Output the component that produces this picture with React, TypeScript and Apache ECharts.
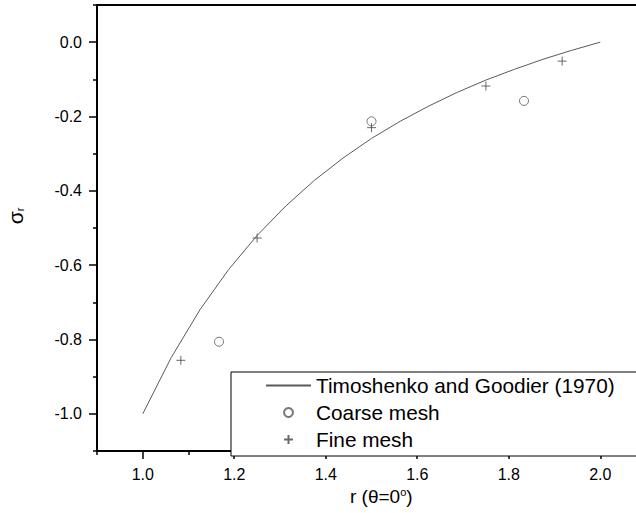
import React, { useEffect, useRef } from "react";
import * as echarts from "echarts";

// Analytical curve
const curveR = [1.0, 1.0625, 1.125, 1.1875, 1.25, 1.3125, 1.375, 1.4375, 1.5, 1.5625, 1.625, 1.6875, 1.75, 1.8125, 1.875, 1.9375, 2.0];
const curveSigma = [-1.0, -0.848, -0.72, -0.612, -0.52, -0.441, -0.372, -0.312, -0.259, -0.213, -0.172, -0.135, -0.102, -0.073, -0.046, -0.022, 0.0];

// Coarse mesh (circles)
const coarseR = [1.1667, 1.5, 1.8333];
const coarseSigma = [-0.806, -0.213, -0.158];

// Fine mesh (crosses)
const fineR = [1.0833, 1.25, 1.5, 1.75, 1.9167];
const fineSigma = [-0.856, -0.527, -0.23, -0.118, -0.051];

// Ticks
const xMajorTicks = [1.0, 1.2, 1.4, 1.6, 1.8, 2.0];
const xMinorTicks = [0.9, 1.1, 1.3, 1.5, 1.7, 1.9, 2.1];
const yMajorTicks = [-1.0, -0.8, -0.6, -0.4, -0.2, 0.0];
const yMinorTicks = [-1.1, -0.9, -0.7, -0.5, -0.3, -0.1, 0.1];

const seriesNames = ["Timoshenko and Goodier (1970)", "Coarse mesh", "Fine mesh"];

const FONT = "'Liberation Sans', Arial, sans-serif";
const PLUS = "path://M0,5L10,5M5,0L5,10";

export default function App() {
  const ref = useRef<HTMLDivElement>(null);
  useEffect(() => {
    if (!ref.current) return;
    const chart = echarts.init(ref.current, null, { renderer: "svg" });
    const zip = (a: number[], b: number[]) => a.map((v, i) => [v, b[i]]);
    const axisLine = { show: true, onZero: false, lineStyle: { color: "#000", width: 2 } };
    chart.setOption({
      animation: false,
      backgroundColor: "#fff",
      grid: {
        left: 97,
        top: 5,
        right: 14,
        bottom: 62,
        show: true,
        borderColor: "#000",
        borderWidth: 2,
        containLabel: false,
        outerBoundsMode: "none",
      },
      xAxis: [
        {
          type: "value",
          min: 0.9,
          max: 2.1,
          position: "bottom",
          axisLine,
          splitLine: { show: false },
          axisTick: { show: true, customValues: xMajorTicks, length: 8, lineStyle: { color: "#000", width: 1.5 } },
          axisLabel: {
            customValues: xMajorTicks,
            formatter: (v: number) => v.toFixed(1),
            fontSize: 16,
            fontFamily: FONT,
            color: "#000",
            margin: 15,
          },
        },
        {
          type: "value",
          min: 0.9,
          max: 2.1,
          position: "bottom",
          axisLine: { show: false, onZero: false },
          splitLine: { show: false },
          axisTick: { show: true, customValues: xMinorTicks, length: 4, lineStyle: { color: "#000", width: 1.5 } },
          axisLabel: { show: false },
        },
      ],
      yAxis: [
        {
          type: "value",
          min: -1.1,
          max: 0.1,
          position: "left",
          axisLine,
          splitLine: { show: false },
          axisTick: { show: true, customValues: yMajorTicks, length: 8, lineStyle: { color: "#000", width: 1.5 } },
          axisLabel: {
            customValues: yMajorTicks,
            formatter: (v: number) => v.toFixed(1),
            fontSize: 16,
            fontFamily: FONT,
            color: "#000",
            margin: 15,
          },
          name: "{s|σ}{sub|r}",
          nameLocation: "middle",
          nameRotate: 90,
          nameGap: 71,
          nameTextStyle: {
            padding: [0, 0, 0, 24],
            rich: {
              s: { fontSize: 21, fontFamily: FONT, color: "#000" },
              sub: { fontSize: 11, fontFamily: FONT, color: "#000", padding: [8, 0, 0, 0] },
            },
          },
        },
        {
          type: "value",
          min: -1.1,
          max: 0.1,
          position: "left",
          axisLine: { show: false, onZero: false },
          splitLine: { show: false },
          axisTick: { show: true, customValues: yMinorTicks, length: 4, lineStyle: { color: "#000", width: 1.5 } },
          axisLabel: { show: false },
        },
      ],
      legend: {
        orient: "vertical",
        left: 231,
        top: 372,
        itemWidth: 45,
        itemHeight: 9,
        itemGap: 6,
        padding: [3, 80, 6, 34],
        borderColor: "#000",
        borderWidth: 1,
        backgroundColor: "#fff",
        data: [
          { name: seriesNames[0], itemStyle: { color: "transparent", borderColor: "transparent", borderWidth: 0 } },
          { name: seriesNames[1] },
          { name: seriesNames[2] },
        ],
        textStyle: { fontSize: 20.8, fontFamily: FONT, color: "#000" },
      },
      graphic: [
        {
          type: "text",
          left: 350,
          top: 486,
          style: {
            text: "r (θ=0{sup|o})",
            fontSize: 19,
            fontFamily: FONT,
            fill: "#000",
            rich: { sup: { fontSize: 11, fontFamily: FONT, fill: "#000", verticalAlign: "top", padding: [0, 0, 10, 0] } },
          },
        },
      ],
      series: [
        {
          name: seriesNames[0],
          type: "line",
          data: zip(curveR, curveSigma),
          symbol: "none",
          lineStyle: { color: "#5a5a5a", width: 1 },
          itemStyle: { color: "#5a5a5a" },
        },
        {
          name: seriesNames[1],
          type: "scatter",
          data: zip(coarseR, coarseSigma),
          symbol: "circle",
          symbolSize: 9,
          itemStyle: { color: "#fff", borderColor: "#555", borderWidth: 1 },
        },
        {
          name: seriesNames[2],
          type: "scatter",
          data: zip(fineR, fineSigma),
          symbol: PLUS,
          symbolSize: 9,
          itemStyle: { color: "none", borderColor: "#444", borderWidth: 1 },
        },
      ],
    });
    return () => chart.dispose();
  }, []);
  return (
    <div style={{ position: "absolute", left: 0, top: 0, width: 636, height: 513, overflow: "hidden" }}>
      <div ref={ref} style={{ width: 660, height: 513 }} />
    </div>
  );
}
